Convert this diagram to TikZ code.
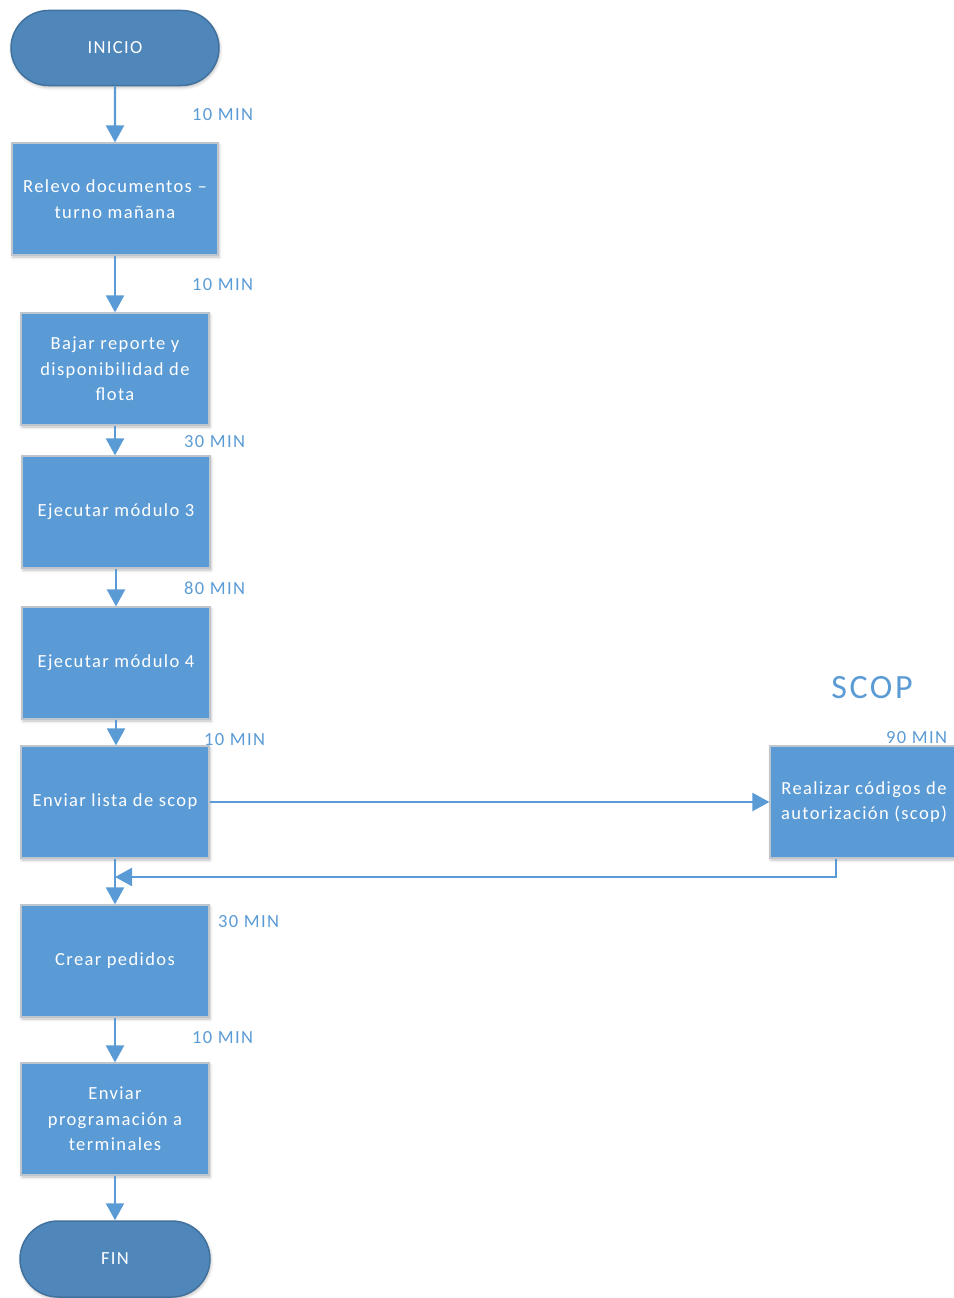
\documentclass[tikz,border=0pt]{standalone}
\usepackage{fontspec}
\setmainfont{Carlito}[LetterSpace=7.5]
\usetikzlibrary{arrows.meta,shadows.blur,shapes.misc}

\definecolor{boxblue}{HTML}{5B9BD5}
\definecolor{boxedge}{HTML}{BFC5CC}
\definecolor{termblue}{HTML}{4F87BB}
\definecolor{termedge}{HTML}{41719C}

\tikzset{
  txt/.style={font=\fontsize{18.5}{25.5}\selectfont},
  process/.style={rectangle, txt, fill=boxblue, draw=boxedge, line width=1.2pt,
    minimum width=188pt, minimum height=112pt, inner sep=0pt, text=white, align=center,
    blur shadow={shadow xshift=1pt, shadow yshift=-2pt, shadow blur radius=3pt, shadow opacity=25}},
  terminal/.style={rounded rectangle, txt, fill=termblue, draw=termedge, line width=1.5pt,
    minimum height=75pt, inner sep=0pt, text=white,
    blur shadow={shadow xshift=1pt, shadow yshift=-2pt, shadow blur radius=3pt, shadow opacity=25}},
  timelbl/.style={txt, text=boxblue, inner sep=0pt, anchor=base west},
  flow/.style={draw=boxblue, line width=2.2pt, -{Triangle[width=18pt,length=17pt]}},
}

\begin{document}
\begin{tikzpicture}[x=1pt,y=-1pt]
\useasboundingbox (0,0) rectangle (953,1298);

% main column
\node[terminal, minimum width=208pt] (inicio) at (115,48) {INICIO};
\node[process, minimum width=206pt] (relevo) at (115,199) {Relevo documentos –\\turno mañana};
\node[process] (bajar) at (115,369) {Bajar reporte y\\disponibilidad de\\flota};
\node[process] (mod3) at (116,512) {Ejecutar módulo 3};
\node[process] (mod4) at (116,663) {Ejecutar módulo 4};
\node[process] (enviar) at (115,802) {Enviar lista de scop};
\node[process] (crear) at (115,961) {Crear pedidos};
\node[process] (prog) at (115,1119) {Enviar\\programación a\\terminales};
\node[terminal, minimum width=190pt, minimum height=76pt] (fin) at (115,1259) {FIN};

% side process
\node[txt, text=boxblue, font=\fontsize{34}{40}\selectfont, inner sep=0pt] (scop) at (872,688) {SCOP};
\node[process] (realizar) at (864,802) {Realizar códigos de\\autorización (scop)};

% durations
\node[timelbl] (t1) at (192,120) {10 MIN};
\node[timelbl] (t2) at (192,290) {10 MIN};
\node[timelbl] (t3) at (184,447) {30 MIN};
\node[timelbl] (t4) at (184,594) {80 MIN};
\node[timelbl] (t5) at (204,745) {10 MIN};
\node[timelbl] (t6) at (886,743) {90 MIN};
\node[timelbl] (t7) at (218,927) {30 MIN};
\node[timelbl] (t8) at (192,1043) {10 MIN};

% connectors
\draw[flow] (inicio) -- (relevo);
\draw[flow] (relevo) -- (bajar);
\draw[flow] (bajar) -- (bajar |- mod3.north);
\draw[flow] (mod3) -- (mod3 |- mod4.north);
\draw[flow] (mod4) -- (mod4 |- enviar.north);
\draw[flow] (enviar) -- (realizar);
\draw[flow] (enviar) -- (crear);
\coordinate (merge) at (115,877);
\draw[flow] ([xshift=-28pt]realizar.south) |- (merge);
\draw[flow] (crear) -- (prog);
\draw[flow] (prog) -- (fin);
\end{tikzpicture}
\end{document}
